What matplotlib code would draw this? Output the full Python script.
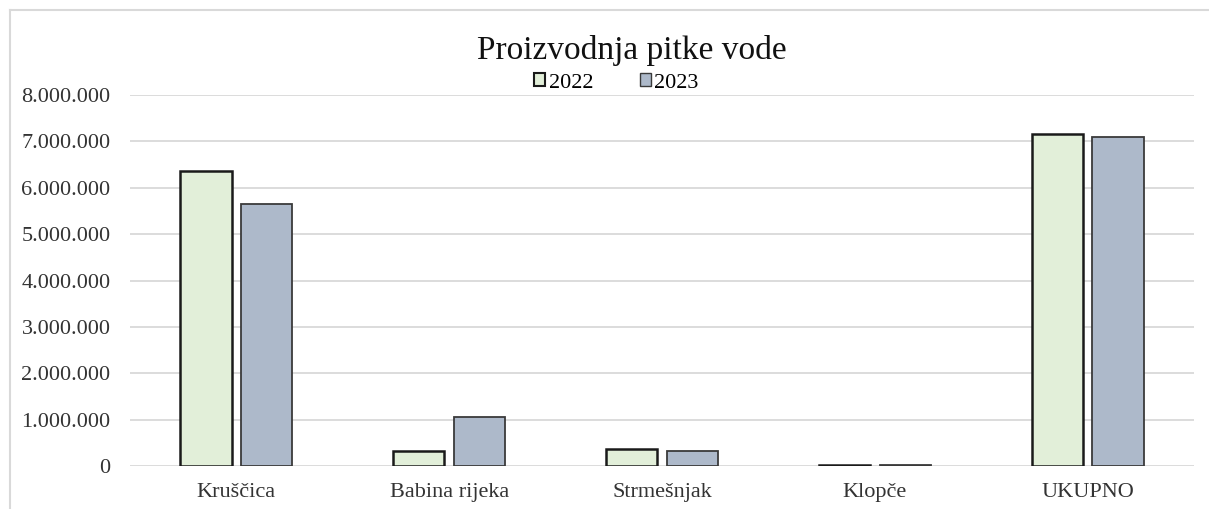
import matplotlib
matplotlib.use("Agg")
import matplotlib.pyplot as plt
import numpy as np
from matplotlib.lines import Line2D
from matplotlib.ticker import FuncFormatter

categories = ["Kruščica", "Babina rijeka", "Strmešnjak", "Klopče", "UKUPNO"]
series_names = ["2022", "2023"]
values_2022 = [6360000, 330000, 370000, 30000, 7150000]
values_2023 = [5650000, 1060000, 330000, 30000, 7100000]
yticks = [0, 1000000, 2000000, 3000000, 4000000, 5000000, 6000000, 7000000, 8000000]

plt.rcParams['font.family'] = ['Liberation Serif', 'DejaVu Serif']

fig = plt.figure(figsize=(12.09, 5.09), dpi=100)
ax = fig.add_axes([130/1209, 1-466/509, (1194-130)/1209, (466-95)/509])

x = np.arange(len(categories))
w = 0.24
off = 0.143
ax.bar(x - off, values_2022, w, color="#E2EFD9", edgecolor="#1a1a1a", linewidth=1.8, zorder=3, label=series_names[0])
ax.bar(x + off, values_2023, w, color="#ADB9CA", edgecolor="#3a3a3a", linewidth=1.3, zorder=3, label=series_names[1])

ax.set_xlim(-0.5, len(categories) - 0.5)
ax.set_ylim(0, 8000000)
ax.set_yticks(yticks)
ax.yaxis.set_major_formatter(FuncFormatter(lambda v, p: f"{int(v):,}".replace(",", ".")))
ax.grid(axis="y", color="#d9d9d9", linewidth=1.3, zorder=0)
for s in ax.spines.values():
    s.set_visible(False)
ax.tick_params(axis="both", length=0, colors="#333333")
ax.tick_params(axis="y", pad=14, labelsize=16)
ax.tick_params(axis="x", pad=12, labelsize=16)
ax.set_xticks(x)
ax.set_xticklabels(categories)

fig.text(0.5225, 1-50/509, "Proizvodnja pitke vode", ha="center", va="center", fontsize=24, color="#111111")

handles = [
    plt.Rectangle((0, 0), 1, 1, facecolor="#E2EFD9", edgecolor="#1a1a1a", linewidth=1.5),
    plt.Rectangle((0, 0), 1, 1, facecolor="#ADB9CA", edgecolor="#3a3a3a", linewidth=1.0),
]
fig.legend(handles, series_names, loc="center", bbox_to_anchor=(0.5100, 1-83/509), ncol=2,
           frameon=False, fontsize=16, handlelength=0.5, handleheight=0.5,
           handletextpad=0.15, columnspacing=2.1, borderpad=0)

fig.add_artist(Line2D([10/1209, 10/1209], [0, 1-10/509], color="#d9d9d9", linewidth=1.5, transform=fig.transFigure))
fig.add_artist(Line2D([10/1209, 1], [1-10/509, 1-10/509], color="#d9d9d9", linewidth=1.5, transform=fig.transFigure))

fig.savefig("out.png", dpi=100)
